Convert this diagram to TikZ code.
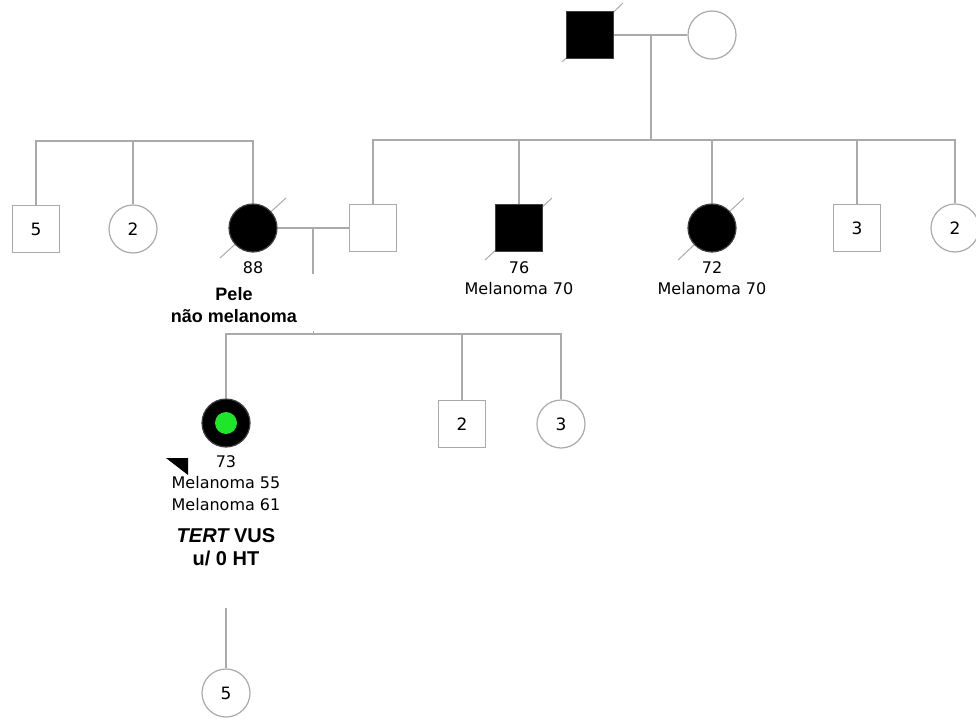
\documentclass[tikz,border=0pt]{standalone}
\usepackage{fontspec}
\setmainfont{DejaVu Sans}
\newfontfamily\boldf{Liberation Sans}
\definecolor{linegray}{RGB}{170,170,170}
\definecolor{probgreen}{RGB}{30,230,40}
\begin{document}
\begin{tikzpicture}[x=1pt,y=-1pt,
  conn/.style={draw=linegray, line width=1.3pt},
  male/.style={rectangle, draw=linegray, line width=1.2pt, minimum size=47pt, inner sep=0pt, fill=white, font=\fontsize{17}{17}\selectfont},
  female/.style={circle, draw=linegray, line width=1.2pt, minimum size=48pt, inner sep=0pt, fill=white, font=\fontsize{17}{17}\selectfont},
  aff/.style={fill=black, draw=black!75},
  dec/.style={draw=linegray, line width=1pt},
  lab/.style={font=\fontsize{16}{21.5}\selectfont, align=center, inner sep=0pt},
  blab/.style={font=\boldf\bfseries\fontsize{18}{22}\selectfont, align=center, inner sep=0pt},
  blabb/.style={font=\boldf\bfseries\fontsize{20}{23}\selectfont, align=center, inner sep=0pt}]
\useasboundingbox (0,0) rectangle (976,719);
% deceased slashes (behind shapes)
\draw[dec] (562,62) -- (623,3);
\draw[dec] (220,258) -- (286,198);
\draw[dec] (485,260) -- (552,198);
\draw[dec] (678,260) -- (744,198);
% generation I
\node[male,aff] (gf) at (590,35) {};
\node[female] (gm) at (712,35) {};
\coordinate (gpm) at (651,35);
\coordinate (gps) at (651,140);
\draw[conn] (gf.east) -- (gm.west);
\draw[conn] (gpm) -- (gps);
% generation II
\node[male] (s5) at (36,229) {5};
\node[female] (c2) at (133,229) {2};
\node[female,aff] (m88) at (253,228) {};
\node[male] (husb) at (373,228) {};
\node[male,aff] (m76) at (519,228) {};
\node[female,aff] (f72) at (712,228) {};
\node[male] (s3) at (857,228) {3};
\node[female] (f2r) at (955,228) {2};
% left sibship
\coordinate (lsl) at (36,141);
\coordinate (lsr) at (253,141);
\draw[conn] (s5.north) -- (lsl) -- (lsr) -- (m88.north);
\draw[conn] (c2.north) -- (c2.north |- lsl);
% right sibship
\coordinate (rsl) at (373,140);
\coordinate (rsr) at (955,140);
\draw[conn] (husb.north) -- (rsl) -- (rsr) -- (f2r.north);
\foreach \n in {m76,f72,s3} \draw[conn] (\n.north) -- (\n.north |- rsl);
% couple II
\draw[conn] (m88.east) -- (husb.west);
\coordinate (cpm) at (313,228);
\coordinate (cpd) at (313,274);
\draw[conn] (cpm) -- (cpd);
% generation III
\node[female,aff] (pro) at (226,423) {};
\node[circle, fill=probgreen, minimum size=22pt, inner sep=0pt] (proin) at (pro.center) {};
\node[male] (s2) at (462,424) {2};
\node[female] (f3) at (561,424) {3};
\coordinate (csl) at (228,334);
\coordinate (csr) at (561,334);
\coordinate (cst) at (313,331);
\draw[conn] (pro.north) -- (pro.north |- csl) -- (csr) -- (f3.north);
\draw[conn] (s2.north) -- (s2.north |- csl);
\draw[conn, line width=0.8pt] (cst) -- (cst |- csl);
% proband arrow
\fill[black] (166,458) -- (188,458) -- (188,475) -- cycle;
% generation IV
\node[female] (c5) at (226,693) {5};
\coordinate (c5top) at (226,608);
\draw[conn] (c5top) -- (c5.north);
% labels
\node[lab] (l88) at (253,268) {88};
\node[blab] (lpele) at (234,305) {Pele\\não melanoma};
\node[lab] (l76) at (519,278) {76\\Melanoma 70};
\node[lab] (l72) at (712,278) {72\\Melanoma 70};
\node[lab] (lpro) at (226,483) {73\\Melanoma 55\\Melanoma 61};
\node[blabb] (ltert) at (226,547) {\itshape TERT\upshape{} VUS\\u/ 0 HT};
\end{tikzpicture}
\end{document}
